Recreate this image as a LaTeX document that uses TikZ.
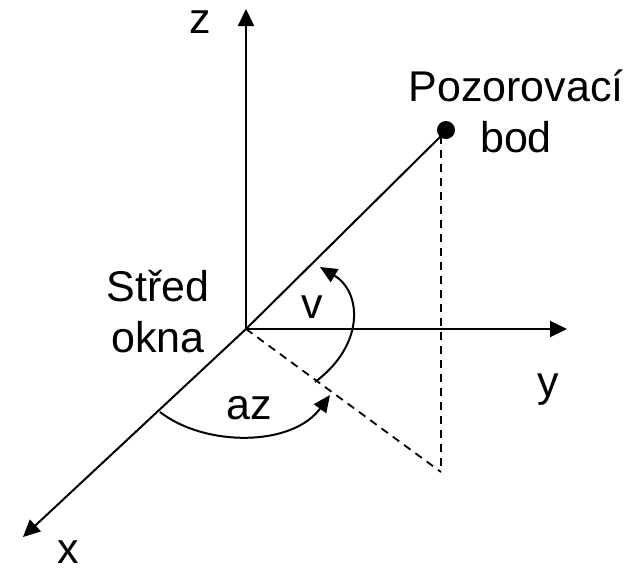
\documentclass[tikz,border=0pt]{standalone}
\usepackage{fontspec}
\setmainfont{Liberation Sans}
\usetikzlibrary{arrows.meta}

\begin{document}
\begin{tikzpicture}[
  x=0.5pt, y=-0.5pt,
  font=\fontsize{21.5}{25.5}\selectfont,
  axis/.style={line width=1pt, -{Triangle[length=8.5pt, width=8pt]}},
  guide/.style={line width=0.9pt, dash pattern=on 4pt off 3pt},
  angarrow/.style={line width=1pt, -{Triangle[length=8.5pt, width=7.5pt]}},
  lbl/.style={inner sep=0pt, align=center}
]
\useasboundingbox (0,0) rectangle (643,570);

\coordinate (o) at (246,329);
\coordinate (ztip) at (246,9);
\coordinate (ytip) at (567,329);
\coordinate (xtip) at (23,537);
\coordinate (p) at (441,136);
\coordinate (foot) at (441,472);

% axes
\draw[axis] (o) -- (ztip);
\draw[axis] (o) -- (ytip);
\draw[axis] (o) -- (xtip);

\node[lbl] (zl) at (200,22) {z};
\node[lbl] (yl) at (548,390) {y};
\node[lbl] (xl) at (68,552) {x};

% observation point
\draw[line width=1pt] (o) -- (p);
\fill (446,130) circle (4.5pt) coordinate (dot);
\node[lbl] (obs) at (516,111) {Pozorovací\\bod};

\draw[guide] (p) -- (foot);
\draw[guide] (o) -- (foot);

\node[lbl] (ctr) at (158,312) {Střed\\okna};

% angles
\draw[angarrow] (315,382) .. controls (365,345) and (362,292) .. (320,267);
\node[lbl] (vl) at (312,307) {v};
\draw[angarrow] (160,412) .. controls (205,447) and (292,447) .. (330,395);
\node[lbl] (azl) at (249,408) {az};
\end{tikzpicture}
\end{document}
